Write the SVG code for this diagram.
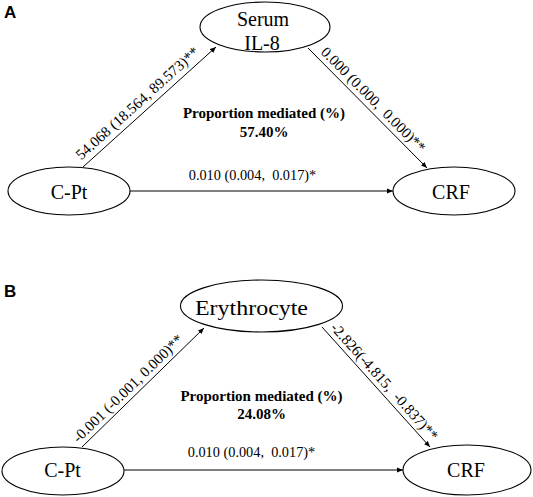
<svg xmlns="http://www.w3.org/2000/svg" width="533" height="497" viewBox="0 0 533 497">
<style>
.node{fill:#fff;stroke:#000;stroke-width:1.1}
.nt{font-family:"Liberation Serif","Times New Roman",serif;font-size:20px;fill:#000;text-anchor:middle}
.el{font-family:"Liberation Serif","Times New Roman",serif;font-size:14.3px;fill:#000;text-anchor:middle;white-space:pre}
.rl{font-size:15px}
.pm{font-family:"Liberation Serif","Times New Roman",serif;font-size:15px;font-weight:bold;fill:#000;text-anchor:middle}
.pl{font-family:"Liberation Sans",Arial,sans-serif;font-size:17px;font-weight:bold;fill:#000}
.edge{stroke:#000;stroke-width:1;fill:none;marker-end:url(#ah)}
</style>
<defs>
<marker id="ah" markerUnits="userSpaceOnUse" markerWidth="7" markerHeight="6" refX="6" refY="3" orient="auto">
<path d="M0,0.5 L6,3 L0,5.5 Z" fill="#000"/>
</marker>
</defs>
<rect width="533" height="497" fill="#fff"/>
<text class="pl" x="4" y="18">A</text>
<text class="pl" x="4" y="297">B</text>
<g id="connectors">
<line class="edge" x1="83" y1="167" x2="216" y2="47"/>
<line class="edge" x1="308" y1="48" x2="427" y2="168"/>
<line class="edge" x1="130" y1="191" x2="393" y2="191"/>
<line class="edge" x1="82" y1="447" x2="204" y2="328"/>
<line class="edge" x1="322" y1="327" x2="430" y2="447"/>
<line class="edge" x1="123" y1="470" x2="403" y2="470"/>
<text class="el rl" transform="translate(140.7,106.9) rotate(-42.06)">54.068 (18.564, 89.573)**</text>
<text class="el rl" transform="translate(369.8,103.1) rotate(45.2)">0.000 (0.000,  0.000)**</text>
<text class="el" x="252.5" y="180">0.010 (0.004,  0.017)*</text>
<text class="el rl" transform="translate(131.3,392) rotate(-44.3)">-0.001 (-0.001, 0.000)**</text>
<text class="el rl" transform="translate(380.7,384.8) rotate(48)">-2.826(-4.815,  -0.837)**</text>
<text class="el" x="251.5" y="457">0.010 (0.004,  0.017)*</text>
</g>
<g id="mediation-a">
<text class="pm" x="264" y="118">Proportion mediated (%)</text>
<text class="pm" x="264" y="137">57.40%</text>
</g>
<g id="mediation-b">
<text class="pm" x="261.5" y="401">Proportion mediated (%)</text>
<text class="pm" x="261.5" y="419">24.08%</text>
</g>
<g id="a-serum-il8">
<ellipse class="node" cx="265" cy="27" rx="65" ry="25"/>
<text class="nt" x="263" y="26">Serum</text>
<text class="nt" x="262" y="50">IL-8</text>
</g>
<g id="a-cpt">
<ellipse class="node" cx="69" cy="191" rx="61" ry="24"/>
<text class="nt" x="69" y="199">C-Pt</text>
</g>
<g id="a-crf">
<ellipse class="node" cx="454" cy="191" rx="61" ry="24"/>
<text class="nt" x="451" y="199">CRF</text>
</g>
<g id="b-erythrocyte">
<ellipse class="node" cx="261.5" cy="306" rx="81" ry="26"/>
<text class="nt" x="251.5" y="315" textLength="113" lengthAdjust="spacingAndGlyphs">Erythrocyte</text>
</g>
<g id="b-cpt">
<ellipse class="node" cx="63" cy="471" rx="61" ry="24"/>
<text class="nt" x="62.5" y="477">C-Pt</text>
</g>
<g id="b-crf">
<ellipse class="node" cx="467" cy="470" rx="64" ry="25"/>
<text class="nt" x="466" y="477">CRF</text>
</g>
</svg>
